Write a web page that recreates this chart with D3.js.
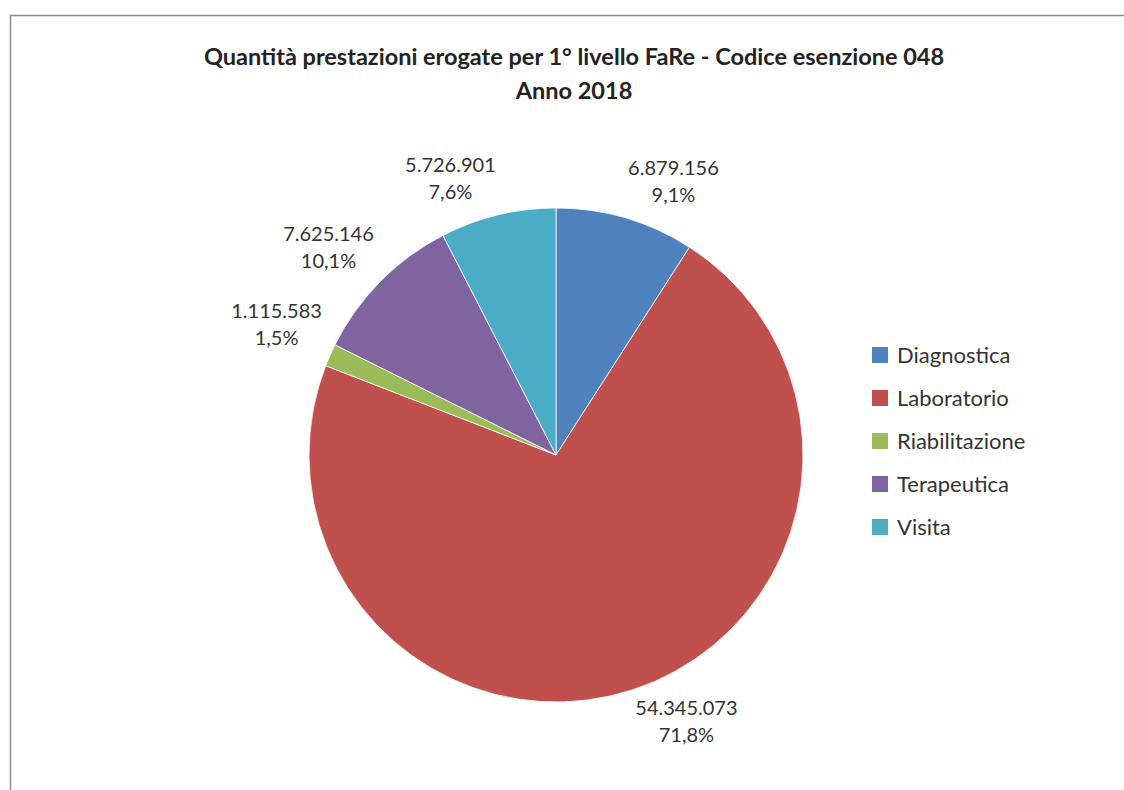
<!DOCTYPE html>
<html><head><meta charset="utf-8">
<script src="https://cdn.jsdelivr.net/npm/d3@7"></script>
<style>html,body{margin:0;padding:0;background:#fff;}svg{display:block;font-family:Lato,"Open Sans",sans-serif;}</style>
</head><body>
<script>
const categories = ["Diagnostica","Laboratorio","Riabilitazione","Terapeutica","Visita"];
const values = [6879156, 54345073, 1115583, 7625146, 5726901];
const colors = ["#4F81BD","#C0504D","#9BBB59","#8064A2","#4BACC6"];
const titleLines = ["Quantità prestazioni erogate per 1° livello FaRe - Codice esenzione 048","Anno 2018"];

const W = 1124, H = 790;
const svg = d3.select("body").append("svg").attr("width", W).attr("height", H);
svg.append("rect").attr("x", 10.5).attr("y", 15.5).attr("width", 1200).attr("height", 1000)
  .attr("fill", "#fff").attr("stroke", "#8c8c8c").attr("stroke-width", 1.5);

const title = svg.append("text").attr("text-anchor", "middle").attr("font-weight", "bold")
  .attr("font-size", 23.5).attr("fill", "#222");
titleLines.forEach((t, i) => title.append("tspan").attr("x", 574).attr("y", 65 + i * 34).text(t));

const cx = 556, cy = 455, R = 247;
const total = d3.sum(values);
const pie = d3.pie().sort(null).value(d => d)(values);
const arc = d3.arc().innerRadius(0).outerRadius(R);
const color = d3.scaleOrdinal().domain(categories).range(colors);
const g = svg.append("g").attr("transform", `translate(${cx},${cy})`);
g.selectAll("path").data(pie).join("path")
  .attr("d", arc).attr("fill", (d, i) => color(categories[i]))
  .attr("stroke", "#fff").attr("stroke-width", 0.8);

const fmtNum = v => d3.format(",")(v).replace(/,/g, ".");
const fmtPct = v => d3.format(".1f")(v * 100).replace(".", ",") + "%";
const gap = 9;
pie.forEach((d, i) => {
  const a = (d.startAngle + d.endAngle) / 2;
  const px = Math.sin(a) * (R + gap), py = -Math.cos(a) * (R + gap);
  const t = g.append("text").attr("text-anchor", "middle").attr("font-size", 20).attr("fill", "#333");
  t.append("tspan").attr("x", 0).attr("y", 0).text(fmtNum(values[i]));
  t.append("tspan").attr("x", 0).attr("y", 27).text(fmtPct(values[i] / total));
  const bb = t.node().getBBox();
  const hw = bb.width / 2, hh = bb.height / 2;
  const sx = Math.sin(a) >= 0 ? 1 : -1, sy = -Math.cos(a) >= 0 ? 1 : -1;
  const tx = px + sx * hw, ty = py + sy * hh - 3;
  const oy = ty - (bb.y + hh);
  t.attr("transform", `translate(${tx},${oy})`);
});

const leg = svg.append("g").attr("transform", "translate(872,347)");
categories.forEach((c, i) => {
  const row = leg.append("g").attr("transform", `translate(0,${i * 43})`);
  row.append("rect").attr("width", 16).attr("height", 16).attr("fill", color(c));
  row.append("text").attr("x", 25).attr("y", 15.5).attr("font-size", 22).attr("fill", "#333").text(c);
});
</script>
</body></html>
